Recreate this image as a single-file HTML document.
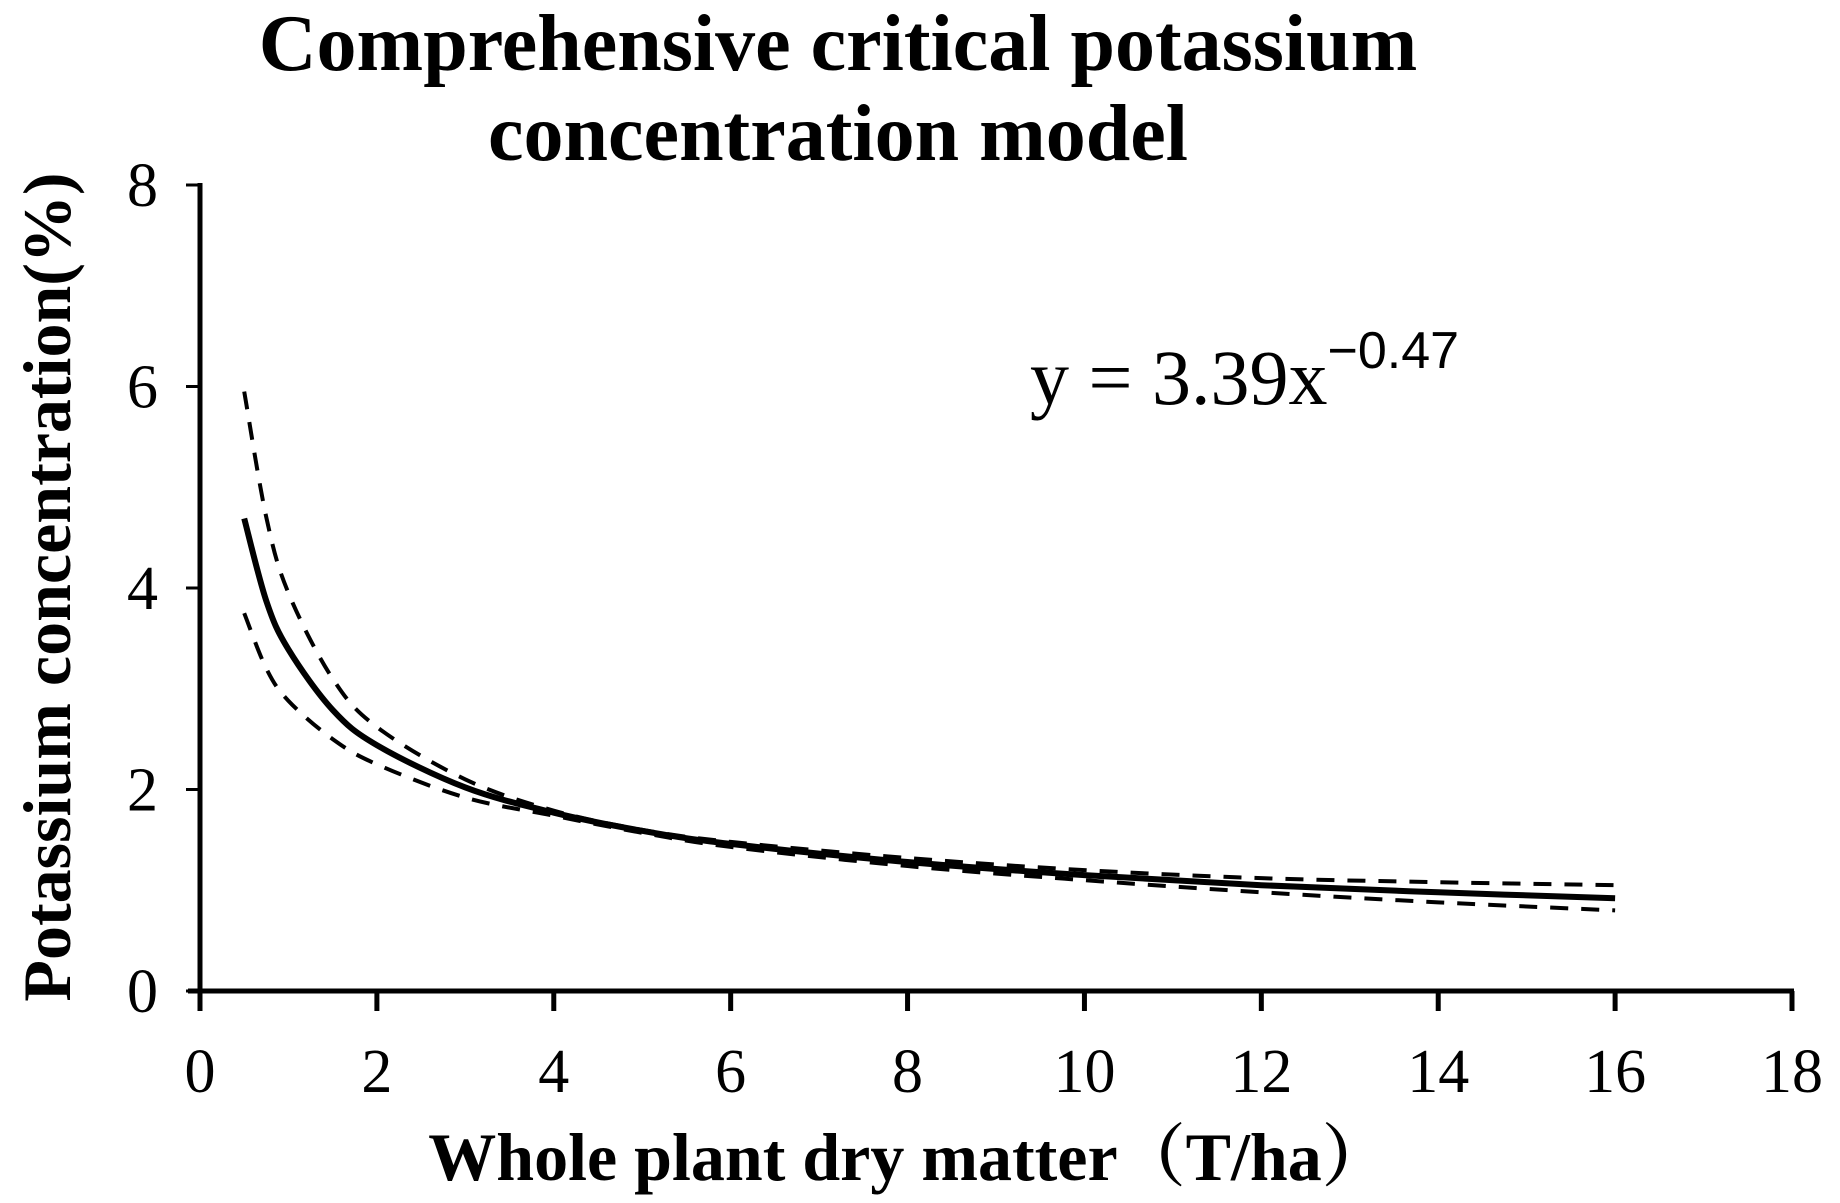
<!DOCTYPE html>
<html><head><meta charset="utf-8"><style>
html,body{margin:0;padding:0;background:#fff;}
svg{display:block;font-family:"Liberation Serif","Noto Serif CJK SC",serif;}
</style></head><body>
<svg id="chart" width="1840" height="1203" viewBox="0 0 1840 1203">
<text x="838" y="70" text-anchor="middle" font-size="80" font-weight="bold">Comprehensive critical potassium</text>
<text x="838" y="160" text-anchor="middle" font-size="80" font-weight="bold">concentration model</text>
<text x="1030" y="404" font-size="78">y = 3.39x<tspan dy="-36" font-size="52" font-family="Liberation Sans, sans-serif">−0.47</tspan></text>
<text transform="translate(70,587) rotate(-90)" text-anchor="middle" font-size="68" font-weight="bold">Potassium concentration(%)</text>
<text x="909" y="1180" text-anchor="middle" font-size="68" font-weight="bold">Whole plant dry matter（T/ha）</text>
<g id="axes"></g>
<g id="series"></g>
</svg>
<script>
const xTicks=[0,2,4,6,8,10,12,14,16,18];
const yTicks=[0,2,4,6,8];
const xVals=[0.5,0.75,1,1.5,2,3,4,5,6,8,10,12,14,16];
const mainVals=[4.69,3.87,3.39,2.79,2.44,2.02,1.77,1.59,1.46,1.28,1.15,1.05,0.98,0.92];
const upperVals=[5.95,4.7,3.95,3.1,2.62,2.1,1.79,1.6,1.48,1.32,1.2,1.12,1.08,1.05];
const lowerVals=[3.75,3.2,2.88,2.5,2.25,1.92,1.74,1.57,1.43,1.24,1.1,0.98,0.88,0.80];
const NS="http://www.w3.org/2000/svg";
const X0=200,X1=1792,Y0=991,Y1=185;
const sx=v=>X0+(v-0)/(18-0)*(X1-X0);
const sy=v=>Y0-(v-0)/(8-0)*(Y0-Y1);
function mk(t,a,p){const e=document.createElementNS(NS,t);for(const k in a)e.setAttribute(k,a[k]);p.appendChild(e);return e;}
const ax=document.getElementById('axes');
let l=mk('line',{x1:X0,y1:Y1-2,x2:X0,y2:Y0+1,stroke:'#000','stroke-width':5},ax);


l=mk('line',{x1:X0-12,y1:Y0,x2:X1+2,y2:Y0,stroke:'#000','stroke-width':5},ax);


yTicks.forEach(v=>{
 const t=mk('line',{x1:X0-14,y1:sy(v),x2:X0,y2:sy(v),stroke:'#000','stroke-width':3},ax);
 
 
 const tx=mk('text',{x:158,y:sy(v)+21,'text-anchor':'end','font-size':62},ax);
 tx.textContent=v;
 
 
});
xTicks.forEach(v=>{
 const t=mk('line',{x1:sx(v),y1:Y0,x2:sx(v),y2:Y0+20,stroke:'#000','stroke-width':5},ax);
 
 
 const tx=mk('text',{x:sx(v),y:1092,'text-anchor':'middle','font-size':62},ax);
 tx.textContent=v;
 
 
});
function path(vals){
 const p=xVals.map((x,i)=>[sx(x),sy(vals[i])]);
 let d='M'+p[0][0]+','+p[0][1];
 for(let i=0;i<p.length-1;i++){
  const a=p[Math.max(0,i-1)],b=p[i],c=p[i+1],e=p[Math.min(p.length-1,i+2)];
  const c1=[b[0]+(c[0]-a[0])/6,b[1]+(c[1]-a[1])/6],c2=[c[0]-(e[0]-b[0])/6,c[1]-(e[1]-b[1])/6];
  d+=` C${c1[0]},${c1[1]} ${c2[0]},${c2[1]} ${c[0]},${c[1]}`;
 }
 return d;
}
const sg=document.getElementById('series');
let s=mk('path',{d:path(upperVals),fill:'none',stroke:'#000','stroke-width':4,'stroke-dasharray':'18,13'},sg);


s=mk('path',{d:path(lowerVals),fill:'none',stroke:'#000','stroke-width':4,'stroke-dasharray':'18,13'},sg);


s=mk('path',{d:path(mainVals),fill:'none',stroke:'#000','stroke-width':6},sg);


</script>
</body></html>
